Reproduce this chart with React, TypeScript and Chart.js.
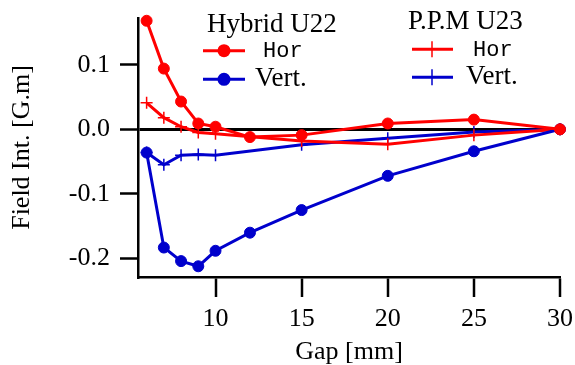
import React, { useEffect, useRef } from 'react';
import { Chart, registerables } from 'chart.js';

Chart.register(...registerables);

// ---- data ----
const gapHybrid = [6, 7, 8, 9, 10, 12, 15, 20, 25, 30];
const hybridHor = [0.168, 0.094, 0.043, 0.009, 0.004, -0.012, -0.009, 0.009, 0.015, 0.0];
const hybridVert = [-0.036, -0.183, -0.204, -0.212, -0.188, -0.16, -0.125, -0.072, -0.034, 0.0];

const gapPPM = [6, 7, 8, 9, 10, 15, 20, 25, 30];
const ppmHor = [0.041, 0.018, 0.004, -0.005, -0.007, -0.018, -0.023, -0.009, 0.0];
const ppmVert = [-0.036, -0.055, -0.04, -0.039, -0.04, -0.024, -0.014, -0.004, 0.0];

const xTicks = [10, 15, 20, 25, 30];
const yTicks = [-0.2, -0.1, 0.0, 0.1];

const groupTitles = ['Hybrid U22', 'P.P.M U23'];
const seriesLabels = ['Hor', 'Vert.'];

// ---- style ----
const RED = 'rgb(255,0,0)';
const BLUE = 'rgb(0,0,204)';
const SERIF = '"Liberation Serif", "Times New Roman", serif';
const MONO = '"Liberation Mono", "Courier New", monospace';
const labelFonts = [MONO, SERIF];
const labelSizes = [22, 27];

const legendLayout = [
  { titleX: 207, titleY: 31.7, lineX0: 203, lineX1: 245, markX: 224, rowY: [50.7, 79.3], textX: [263, 255] },
  { titleX: 408, titleY: 29.3, lineX0: 412, lineX1: 453, markX: 432, rowY: [49.3, 77.3], textX: [473, 466] },
];

const toXY = (xs: number[], ys: number[]) => xs.map((x, i) => ({ x, y: ys[i] }));

const legendPlugin = {
  id: 'customLegend',
  afterDraw(chart: any) {
    const ctx = chart.ctx as CanvasRenderingContext2D;
    const datasets = chart.data.datasets as any[];
    ctx.save();
    legendLayout.forEach((L, gi) => {
      ctx.fillStyle = 'black';
      ctx.textBaseline = 'alphabetic';
      ctx.textAlign = 'left';
      ctx.font = `27px ${SERIF}`;
      ctx.fillText(groupTitles[gi], L.titleX, L.titleY);
      const items = datasets.filter((d) => d.group === gi);
      items.forEach((d, ri) => {
        const y = L.rowY[ri];
        ctx.strokeStyle = d.borderColor;
        ctx.lineWidth = 3;
        ctx.beginPath();
        ctx.moveTo(L.lineX0, y);
        ctx.lineTo(L.lineX1, y);
        ctx.stroke();
        if (d.pointStyle === 'circle') {
          ctx.fillStyle = d.borderColor;
          ctx.beginPath();
          ctx.arc(L.markX, y, 6.5, 0, Math.PI * 2);
          ctx.fill();
        } else {
          ctx.lineWidth = 1.5;
          ctx.beginPath();
          ctx.moveTo(L.markX, y - 8);
          ctx.lineTo(L.markX, y + 8);
          ctx.stroke();
        }
        ctx.fillStyle = 'black';
        ctx.font = `${labelSizes[ri]}px ${labelFonts[ri]}`;
        ctx.fillText(d.label, L.textX[ri], y + 6.6);
      });
    });
    ctx.restore();
  },
};

export default function App() {
  const ref = useRef<HTMLCanvasElement>(null);

  useEffect(() => {
    if (!ref.current) return;
    const mk = (label: string, xs: number[], ys: number[], color: string, group: number, style: string) => ({
      label,
      group,
      data: toXY(xs, ys),
      borderColor: color,
      backgroundColor: color,
      borderWidth: 3,
      pointStyle: style,
      pointRadius: style === 'circle' ? 5.5 : 6,
      pointBorderWidth: style === 'circle' ? 1 : 1.5,
      pointBackgroundColor: color,
      pointBorderColor: color,
      tension: 0,
      clip: false as any,
    });
    const chart = new Chart(ref.current, {
      type: 'line',
      data: {
        datasets: [
          mk(seriesLabels[0], gapHybrid, hybridHor, RED, 0, 'circle'),
          mk(seriesLabels[1], gapHybrid, hybridVert, BLUE, 0, 'circle'),
          mk(seriesLabels[0], gapPPM, ppmHor, RED, 1, 'cross'),
          mk(seriesLabels[1], gapPPM, ppmVert, BLUE, 1, 'cross'),
        ] as any,
      },
      options: {
        responsive: false,
        animation: false,
        layout: { padding: { left: 0, right: 15, top: 18, bottom: 0 } },
        plugins: { legend: { display: false }, tooltip: { enabled: false } },
        scales: {
          x: {
            type: 'linear',
            min: 5.5,
            max: 30,
            afterBuildTicks: (s: any) => {
              s.ticks = xTicks.map((v) => ({ value: v }));
            },
            afterFit: (s: any) => {
              s.height = 88;
              s.paddingLeft = 0;
              s.paddingRight = 0;
            },
            grid: {
              drawOnChartArea: false,
              color: 'black',
              lineWidth: 2,
              tickLength: 20,
              tickWidth: 2.5,
              tickColor: 'black',
            },
            border: { display: true, color: 'black', width: 2.5 },
            ticks: {
              color: 'black',
              font: { family: SERIF, size: 26 },
              padding: 7,
              maxRotation: 0,
              autoSkip: false,
              callback: (v: any) => String(v),
            },
            title: {
              display: true,
              text: 'Gap [mm]',
              color: 'black',
              font: { family: SERIF, size: 26, lineHeight: 1 },
              padding: 0,
            },
          },
          y: {
            type: 'linear',
            min: -0.2286,
            max: 0.1723,
            afterBuildTicks: (s: any) => {
              s.ticks = yTicks.map((v) => ({ value: v }));
            },
            afterFit: (s: any) => {
              s.width = 138;
              s.paddingTop = 0;
              s.paddingBottom = 0;
            },
            grid: {
              drawOnChartArea: true,
              color: (c: any) => (c.tick && Math.abs(c.tick.value) < 1e-9 ? 'black' : 'rgba(0,0,0,0)'),
              lineWidth: 3,
              tickLength: 18,
              tickWidth: 2.5,
              tickColor: 'black',
            },
            border: { display: true, color: 'black', width: 2.5 },
            ticks: {
              color: 'black',
              font: { family: SERIF, size: 26 },
              padding: 10,
              autoSkip: false,
              callback: (v: any) => Number(v).toFixed(1),
            },
            title: {
              display: true,
              text: 'Field Int. [G.m]',
              color: 'black',
              font: { family: SERIF, size: 26, lineHeight: 1 },
              padding: { top: 9, bottom: 0 },
            },
          },
        },
      } as any,
      plugins: [legendPlugin],
    });
    return () => chart.destroy();
  }, []);

  return (
    <div style={{ position: 'absolute', left: 0, top: 0, width: 575, height: 365 }}>
      <canvas ref={ref} width={575} height={365} style={{ display: 'block' }} />
    </div>
  );
}
